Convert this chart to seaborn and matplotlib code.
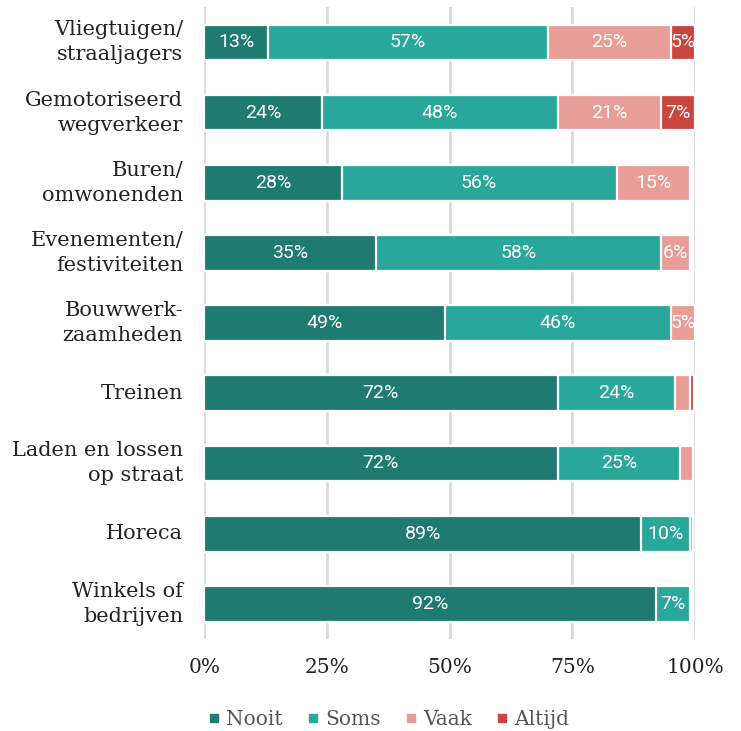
import numpy as np
import pandas as pd
import seaborn as sns
import matplotlib.pyplot as plt
from matplotlib.lines import Line2D

plt.switch_backend("Agg")

# Data
categories = [
    "Vliegtuigen/\nstraaljagers",
    "Gemotoriseerd\nwegverkeer",
    "Buren/\nomwonenden",
    "Evenementen/\nfestiviteiten",
    "Bouwwerk-\nzaamheden",
    "Treinen",
    "Laden en lossen\nop straat",
    "Horeca",
    "Winkels of\nbedrijven",
]
nooit = [13, 24, 28, 35, 49, 72, 72, 89, 92]
soms = [57, 48, 56, 58, 46, 24, 25, 10, 7]
vaak = [25, 21, 15, 6, 5, 3, 2.6, 0.5, 0]
altijd = [5, 7, 0, 0, 0, 0.7, 0, 0, 0]

series_names = ["Nooit", "Soms", "Vaak", "Altijd"]
colors = ["#1f7b71", "#2aa79b", "#e99d98", "#c9463e"]

df = pd.DataFrame(
    {"Categorie": categories, "Nooit": nooit, "Soms": soms, "Vaak": vaak, "Altijd": altijd}
)
cum = df[series_names].cumsum(axis=1).clip(upper=100)

sns.set_theme(style="white")
serif = ["DejaVu Serif"]

fig = plt.figure(figsize=(7.41, 7.31), dpi=100)
ax = fig.add_axes([0.2755, 0.126, 0.6625, 0.864])

# vertical gridlines behind bars
for x in [0, 25, 50, 75, 100]:
    ax.axvline(x, color="#d9d9d9", lw=2, zorder=0)

# stacked bars drawn as cumulative totals, longest first
for name, color in reversed(list(zip(series_names, colors))):
    sns.barplot(
        x=cum[name], y=df["Categorie"], orient="h", color=color, width=0.51,
        saturation=1, edgecolor="white", linewidth=1.6, ax=ax, zorder=2,
    )

# percentage labels in the segments
for i, row in df.iterrows():
    left = 0
    for name in series_names:
        v = row[name]
        if v >= 5:
            ax.text(left + v / 2, i, f"{v:.0f}%", ha="center", va="center",
                    color="white", fontsize=14, family="Roboto", zorder=5)
        left += v

ax.set_xlim(0, 100)
ax.set_ylim(len(categories) - 0.5, -0.5)
ax.set_xticks([0, 25, 50, 75, 100])
ax.set_xticklabels(["0%", "25%", "50%", "75%", "100%"], family=serif, fontsize=14.5,
                   color="#222222")
ax.set_yticks(range(len(categories)))
ax.set_yticklabels(categories, family=serif, fontsize=15, color="#222222",
                   linespacing=1.4, va="center")
for lbl in ax.get_yticklabels():
    lbl.set_y(lbl.get_position()[1])
ax.tick_params(axis="both", length=0)
ax.tick_params(axis="x", pad=14)
ax.tick_params(axis="y", pad=15)
ax.set_xlabel("")
ax.set_ylabel("")
sns.despine(ax=ax, left=True, bottom=True)

handles = [
    Line2D([], [], marker="s", linestyle="", color=c, markersize=6)
    for c in colors
]
leg = fig.legend(handles, series_names, loc="lower center", bbox_to_anchor=(0.52, -0.022),
                 ncol=4, frameon=False, handletextpad=0.0, columnspacing=0.9,
                 handlelength=1.2, prop={"family": serif, "size": 14.5})
for t in leg.get_texts():
    t.set_color("#555555")

fig.savefig("out.png", dpi=100)
